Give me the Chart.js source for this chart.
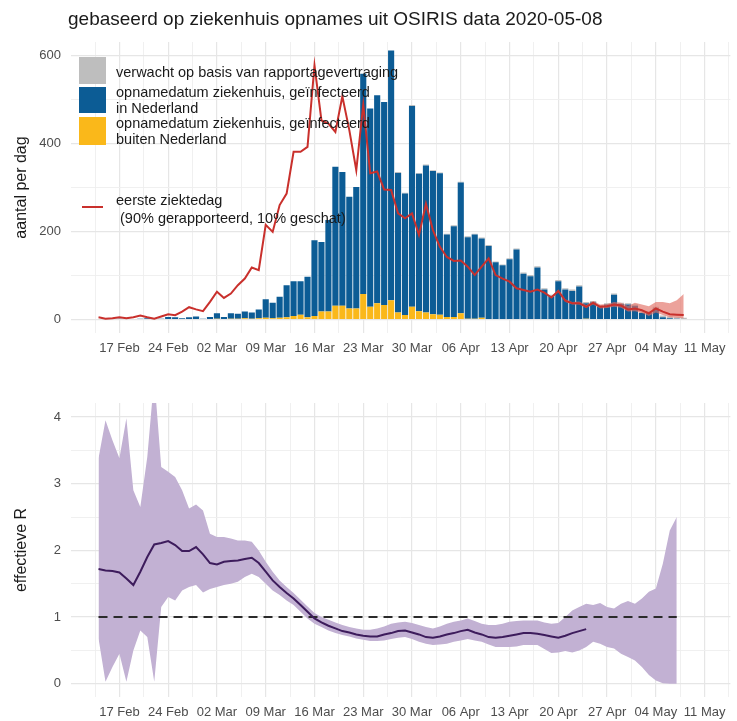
<!DOCTYPE html>
<html lang="nl">
<head>
<meta charset="utf-8">
<title>Ziekenhuisopnames en effectieve R</title>
<script src="https://cdn.jsdelivr.net/npm/chart.js@4.4.1/dist/chart.umd.min.js"></script>
<style>
  body { margin: 0; background: #fff; font-family: 'Liberation Sans', Arial, sans-serif; }
  #wrap { position: relative; width: 737px; height: 721px; overflow: hidden; }
  .plot { position: absolute; left: 0; width: 737px; }
  #titel { position: absolute; left: 68px; top: 8px; font-size: 19px; line-height: 22px; color: #1a1a1a; white-space: nowrap; }
  .key { position: absolute; left: 79px; width: 27px; }
  .lab { position: absolute; left: 116px; font-size: 14.5px; line-height: 16px; color: #1a1a1a; white-space: pre; }
</style>
</head>
<body>
<div id="wrap">
  <div class="plot" style="top:0;height:365px"><canvas id="opnames"></canvas></div>
  <div class="plot" style="top:375px;height:346px"><canvas id="reff"></canvas></div>
  <div id="titel">gebaseerd op ziekenhuis opnames uit OSIRIS data 2020-05-08</div>
  <div class="key" style="top:57px;height:27px;background:#BEBEBE"></div>
  <div class="lab" style="top:64px">verwacht op basis van rapportagevertraging</div>
  <div class="key" style="top:87px;height:26px;background:#0C5C95"></div>
  <div class="lab" style="top:84px">opnamedatum ziekenhuis, geïnfecteerd
in Nederland</div>
  <div class="key" style="top:117px;height:28px;background:#FAB81A"></div>
  <div class="lab" style="top:115px">opnamedatum ziekenhuis, geïnfecteerd
buiten Nederland</div>
  <div class="key" style="top:206px;left:82px;width:21px;height:2px;background:#C9302C"></div>
  <div class="lab" style="top:191px;line-height:18px">eerste ziektedag
 (90% gerapporteerd, 10% geschat)</div>
</div>
<script>
Chart.defaults.font.family = "'Liberation Sans', Arial, sans-serif";
Chart.defaults.animation = false;

// dagen geteld vanaf maandag 17 februari 2020 (= dag 0)
const firstDay = -3;          // 14 feb
const redBandFirstDay = 62;   // 19 apr

const weekLabels = ['17 Feb', '24 Feb', '02 Mar', '09 Mar', '16 Mar', '23 Mar', '30 Mar',
                    '06 Apr', '13 Apr', '20 Apr', '27 Apr', '04 May', '11 May'];
const countTicks = [0, 200, 400, 600];
const rTicks = [0, 1, 2, 3, 4];
const rRef = 1;

// opnames per dag
const buitenNL = [0,0,0,0,0,0,0,0,0,0,
  1,1,0,1,1,0,1,
  2,1,2,2,3,2,3,
  4,3,4,5,8,11,5,
  8,18,18,31,31,25,25,
  58,29,37,33,44,16,10,
  29,19,16,12,11,6,6,
  14,2,2,4,1,1,1,
  0,0,0,0,0,0,0,
  0,0,0,0,2,0,0,
  0,0,0,0,0,0,0,
  0,0,0,0,0];
const binnenNL = [0,1,2,2,2,1,2,3,1,2,
  5,4,3,4,6,2,5,
  12,5,12,11,15,14,20,
  42,35,48,73,79,76,92,
  172,158,208,316,304,254,276,
  500,450,472,461,567,317,276,
  456,312,334,325,321,187,206,
  297,185,191,180,166,129,122,
  137,159,104,98,118,68,53,
  87,68,65,75,35,39,30,
  34,56,35,34,31,15,16,
  25,5,3,2,1];
const verwacht = [0,0,0,0,0,0,0,0,0,0,
  0,0,0,0,0,0,0,
  0,0,0,0,0,0,0,
  0,0,0,0,0,0,0,
  0,0,0,0,0,0,0,
  0,0,0,0,0,2,2,
  2,2,2,2,2,2,2,
  2,2,2,2,2,2,2,
  2,2,3,3,3,3,3,
  3,3,3,3,3,3,3,
  3,3,3,3,3,3,3,
  4,4,4,3,3];

// eerste ziektedag
const ziektedag = [5,2,3,5,3,5,9,5,2,7,
  12,10,18,28,23,19,40,
  63,49,59,78,93,118,112,
  215,199,260,286,381,381,392,
  577,452,445,426,507,430,339,
  488,332,336,295,294,241,230,
  241,192,263,203,165,142,133,
  134,120,101,120,139,101,93,
  86,71,67,63,68,61,50,
  65,43,37,37,29,38,29,
  30,34,32,23,25,21,14,
  25,18,12,11,10];
const ziektedagLaag = [47,62,40,34,34,26,34,25,26,29,27,18,19,15,8,16,10,5,4,3];
const ziektedagHoog = [53,68,46,40,41,33,42,34,35,40,38,31,38,34,30,40,40,37,44,58];

// effectieve R
const rSchatting = [1.72,1.70,1.69,1.67,1.58,1.48,1.68,1.90,2.09,2.11,
  2.14,2.08,1.99,1.99,2.05,1.94,1.81,
  1.79,1.83,1.84,1.85,1.87,1.89,1.81,
  1.68,1.55,1.45,1.36,1.28,1.18,1.08,
  0.98,0.92,0.87,0.83,0.79,0.77,0.74,
  0.72,0.71,0.71,0.74,0.76,0.79,0.80,
  0.77,0.74,0.70,0.69,0.71,0.74,0.76,
  0.79,0.81,0.77,0.74,0.70,0.69,0.70,
  0.72,0.74,0.76,0.76,0.75,0.73,0.71,
  0.69,0.72,0.76,0.79,0.82];
const rHoog = [3.38,3.95,3.65,3.38,3.98,2.90,2.65,3.40,4.60,3.25,
  3.18,3.10,2.90,2.63,2.69,2.60,2.25,
  2.20,2.20,2.18,2.15,2.15,2.13,2.00,
  1.83,1.68,1.55,1.45,1.36,1.26,1.16,
  1.06,1.00,0.96,0.92,0.88,0.85,0.83,
  0.81,0.81,0.83,0.86,0.90,0.92,0.93,
  0.91,0.88,0.85,0.83,0.86,0.90,0.93,
  0.95,0.98,0.94,0.90,0.88,0.88,0.90,
  0.93,0.94,0.95,0.95,0.95,0.92,0.90,
  0.91,1.00,1.10,1.15,1.20,1.18,1.21,
  1.15,1.13,1.20,1.24,1.20,1.28,1.38,
  1.43,1.80,2.30,2.50];
const rLaag = [0.68,0.03,0.25,0.45,0.03,0.50,0.80,0.70,0.03,1.15,
  1.30,1.25,1.40,1.45,1.48,1.37,1.42,
  1.45,1.48,1.50,1.53,1.60,1.65,1.60,
  1.50,1.40,1.33,1.25,1.18,1.08,0.98,
  0.90,0.85,0.80,0.76,0.73,0.71,0.68,
  0.66,0.64,0.64,0.65,0.67,0.69,0.70,
  0.67,0.63,0.60,0.58,0.59,0.60,0.63,
  0.65,0.67,0.65,0.63,0.59,0.55,0.55,
  0.55,0.56,0.58,0.58,0.58,0.52,0.46,
  0.47,0.49,0.47,0.50,0.55,0.63,0.60,
  0.55,0.53,0.45,0.40,0.35,0.25,0.13,
  0.05,0.01,0.00,0.00];

const colBlue = '#0C5C95', colYellow = '#FAB81A', colGray = '#BEBEBE', colRed = '#C9302C';
const tickColor = '#4D4D4D';

const toPoints = (arr, start) => arr.map((v, i) => ({ x: start + i, y: v }));

// x-as: weken met tussenlijnen op halve weken
function dateAxis(height) {
  return {
    type: 'linear', min: -6.95, max: 87.7, offset: false,
    afterBuildTicks: s => {
      const t = [];
      weekLabels.forEach((l, i) => { t.push(7 * i - 3.5); t.push(7 * i); });
      t.push(7 * weekLabels.length - 3.5);
      s.ticks = t.filter(v => v >= s.min && v <= s.max).map(v => ({ value: v }));
    },
    grid: {
      offset: false, drawTicks: false,
      color: c => (c.tick && c.tick.value % 7 === 0) ? '#E6E6E6' : '#EEEEEE',
      lineWidth: c => (c.tick && c.tick.value % 7 === 0) ? 1.2 : 0.9
    },
    border: { display: false },
    ticks: {
      autoSkip: false, maxRotation: 0, padding: 8, color: tickColor, font: { size: 13 },
      callback: v => v % 7 === 0 ? weekLabels[v / 7] : ''
    },
    afterFit: s => { s.height = height; }
  };
}

function valueAxis(ticks, min, max, title) {
  const step = ticks[1] - ticks[0];
  const isMajor = v => ticks.includes(v);
  return {
    min: min, max: max,
    afterBuildTicks: s => {
      const t = [];
      ticks.forEach((v, i) => { t.push(v); if (i < ticks.length - 1) t.push(v + step / 2); });
      s.ticks = t.map(v => ({ value: v }));
    },
    grid: {
      drawTicks: false,
      color: c => (c.tick && isMajor(c.tick.value)) ? '#E6E6E6' : '#EEEEEE',
      lineWidth: c => (c.tick && isMajor(c.tick.value)) ? 1.2 : 0.9
    },
    border: { display: false },
    ticks: {
      padding: 10, color: tickColor, font: { size: 13 },
      callback: v => isMajor(v) ? String(v) : ''
    },
    title: { display: true, text: title, color: '#1a1a1a', font: { size: 16 }, padding: { top: 12, bottom: 0 } },
    afterFit: s => { s.width = 71; }
  };
}

new Chart(document.getElementById('opnames'), {
  type: 'bar',
  data: {
    datasets: [
      { type: 'line', data: toPoints(ziektedag, firstDay), borderColor: colRed, borderWidth: 2,
        pointRadius: 0, fill: false, order: 0, stack: 'lijn' },
      { type: 'line', data: toPoints(ziektedagHoog, redBandFirstDay), borderColor: 'transparent', borderWidth: 0,
        backgroundColor: 'rgba(226,112,102,0.65)', fill: '+1', pointRadius: 0, order: 1, stack: 'hoog' },
      { type: 'line', data: toPoints(ziektedagLaag, redBandFirstDay), borderColor: 'transparent', borderWidth: 0,
        fill: false, pointRadius: 0, order: 1, stack: 'laag' },
      { data: toPoints(buitenNL, firstDay), backgroundColor: colYellow, stack: 'opnames', order: 2 },
      { data: toPoints(binnenNL, firstDay), backgroundColor: colBlue, stack: 'opnames', order: 2 },
      { data: toPoints(verwacht, firstDay), backgroundColor: colGray, stack: 'opnames', order: 2 }
    ]
  },
  options: {
    responsive: true,
    maintainAspectRatio: false,
    layout: { padding: { top: 42, right: 2, left: 0, bottom: 0 } },
    datasets: { bar: { barPercentage: 0.88, categoryPercentage: 1, borderWidth: 0 } },
    plugins: { legend: { display: false }, tooltip: { enabled: false } },
    scales: {
      x: dateAxis(32),
      y: Object.assign(valueAxis(countTicks, -30.6, 630.2, 'aantal per dag'), { stacked: true })
    }
  }
});

new Chart(document.getElementById('reff'), {
  type: 'line',
  data: {
    datasets: [
      { data: toPoints(rSchatting, firstDay), borderColor: '#3D1C5C', borderWidth: 2, order: 0 },
      { data: [{ x: firstDay, y: rRef }, { x: firstDay + rHoog.length - 1, y: rRef }],
        borderColor: '#2B2B2B', borderWidth: 2, borderDash: [9, 6], order: 1 },
      { data: toPoints(rHoog, firstDay), borderColor: 'transparent', borderWidth: 0,
        backgroundColor: '#C2B1D3', fill: '+1', order: 2 },
      { data: toPoints(rLaag, firstDay), borderColor: 'transparent', borderWidth: 0, fill: false, order: 2 }
    ]
  },
  options: {
    responsive: true,
    maintainAspectRatio: false,
    layout: { padding: { top: 28, right: 2, left: 0, bottom: 0 } },
    elements: { point: { radius: 0 }, line: { tension: 0 } },
    plugins: { legend: { display: false }, tooltip: { enabled: false } },
    scales: {
      x: dateAxis(24),
      y: valueAxis(rTicks, -0.198, 4.21, 'effectieve R')
    }
  }
});
</script>
</body>
</html>
